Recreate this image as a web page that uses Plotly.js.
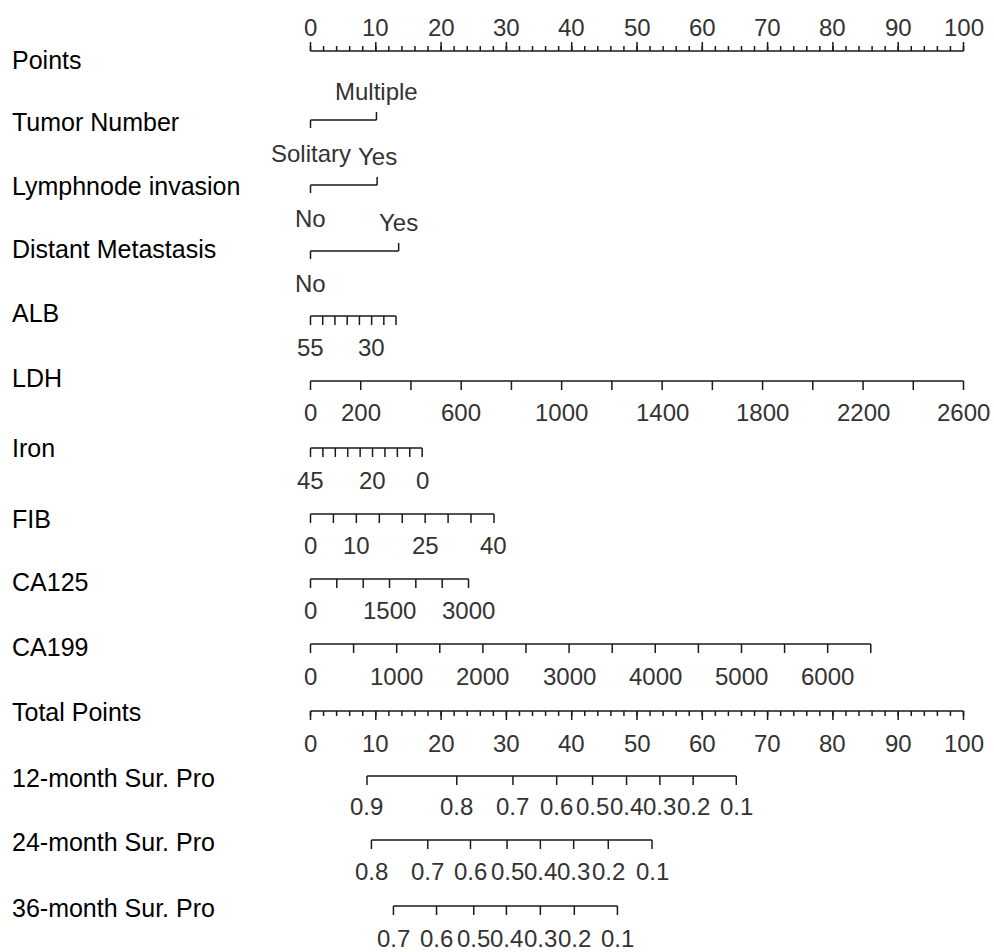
<!DOCTYPE html>
<html><head><meta charset="utf-8">
<script src="https://cdn.plot.ly/plotly-3.0.1.min.js"></script>
<style>html,body{margin:0;padding:0;background:#fff}</style></head>
<body><div id="chart" style="width:994px;height:952px"></div>
<script>
// ---------- DATA (x positions in "Points") ----------
const rowNames = ["Points","Tumor Number","Lymphnode invasion","Distant Metastasis","ALB","LDH","Iron","FIB","CA125","CA199","Total Points","12-month Sur. Pro","24-month Sur. Pro","36-month Sur. Pro"];

const pointsMinor = [0,2,4,6,8,10,12,14,16,18,20,22,24,26,28,30,32,34,36,38,40,42,44,46,48,50,52,54,56,58,60,62,64,66,68,70,72,74,76,78,80,82,84,86,88,90,92,94,96,98,100];
const pointsMajor = [0,10,20,30,40,50,60,70,80,90,100];

const tumorLevels = ["Solitary","Multiple"];
const tumorPts = [0, 10.1];
const lymphLevels = ["No","Yes"];
const lymphPts = [0, 10.2];
const distantLevels = ["No","Yes"];
const distantPts = [0, 13.5];

const albValues = [55,50,45,40,35,30,25,20];
const albPts = [0,1.87,3.74,5.62,7.49,9.36,11.23,13.1];
const albLabels = ["55","30"];

const ldhValues = [0,200,400,600,800,1000,1200,1400,1600,1800,2000,2200,2400,2600];
const ldhPts = [0,7.69,15.38,23.08,30.77,38.46,46.15,53.85,61.54,69.23,76.92,84.62,92.31,100];
const ldhLabels = ["0","200","600","1000","1400","1800","2200","2600"];

const ironValues = [45,40,35,30,25,20,15,10,5,0];
const ironPts = [0,1.9,3.8,5.7,7.6,9.5,11.4,13.3,15.2,17.1];
const ironLabels = ["45","20","0"];

const fibValues = [0,5,10,15,20,25,30,35,40];
const fibPts = [0,3.51,7.02,10.54,14.05,17.56,21.07,24.58,28.1];
const fibLabels = ["0","10","25","40"];

const ca125Values = [0,500,1000,1500,2000,2500,3000];
const ca125Pts = [0,4.03,8.07,12.1,16.13,20.17,24.2];
const ca125Labels = ["0","1500","3000"];

const ca199Values = [0,500,1000,1500,2000,2500,3000,3500,4000,4500,5000,5500,6000,6500];
const ca199Pts = [0,6.6,13.2,19.8,26.4,33.0,39.6,46.2,52.8,59.4,66.0,72.6,79.2,85.8];
const ca199Labels = ["0","1000","2000","3000","4000","5000","6000"];

const sur12Values = ["0.9","0.8","0.7","0.6","0.5","0.4","0.3","0.2","0.1"];
const sur12Pts = [8.65,22.4,31.0,37.7,43.2,48.4,53.5,58.6,65.2];
const sur24Values = ["0.8","0.7","0.6","0.5","0.4","0.3","0.2","0.1"];
const sur24Pts = [9.33,17.96,24.5,30.1,35.2,40.3,45.6,52.3];
const sur36Values = ["0.7","0.6","0.5","0.4","0.3","0.2","0.1"];
const sur36Pts = [12.7,19.3,25.0,30.0,35.2,40.4,47.0];

// ---------- LAYOUT (pixel rows) ----------
const rowLabelY = [60,122,186,249,313,378,448,519,582,647,712,778,842,908];
const LINE = "#1a1a1a", TXT = "#333333";
const FONT = "Liberation Sans, Arial, Helvetica, sans-serif";
const segX = [], segY = [];
const ann = [];
function seg(x1,y1,x2,y2){ segX.push(x1,x2,null); segY.push(y1,y2,null); }
function axisLine(pts, y){ seg(Math.min(...pts), y, Math.max(...pts), y); }
function ticks(pts, y, len){ pts.forEach(p => seg(p, y, p, y+len)); }
function label(text, x, y){
  ann.push({x:x, y:y, xref:"x", yref:"y", text:String(text), showarrow:false,
    xanchor:"center", yanchor:"middle", font:{family:FONT, size:24, color:TXT}});
}
function numericRow(values, pts, labels, lineY, labY, dir){
  axisLine(pts, lineY);
  ticks(pts, lineY, 9*dir);
  values.forEach((v,i) => { if (labels.indexOf(String(v)) >= 0) label(v, pts[i], labY); });
}

// Points (ticks up)
axisLine(pointsMinor, 51);
ticks(pointsMinor, 51, -5);
ticks(pointsMajor, 51, -9);
pointsMajor.forEach(v => label(v, v, 27));

// Categorical rows: first level below (tick down), second above (tick up)
function catRow(levels, pts, lineY, labBelow, labAbove){
  axisLine(pts, lineY);
  seg(pts[0], lineY, pts[0], lineY+8);
  seg(pts[1], lineY, pts[1], lineY-8);
  label(levels[0], pts[0], labBelow);
  label(levels[1], pts[1], labAbove);
}
catRow(tumorLevels, tumorPts, 120, 153, 91);
catRow(lymphLevels, lymphPts, 185, 218, 156);
catRow(distantLevels, distantPts, 251, 283, 222);

numericRow(albValues, albPts, albLabels, 316, 347, 1);
numericRow(ldhValues, ldhPts, ldhLabels, 381, 412, 1);
numericRow(ironValues, ironPts, ironLabels, 448, 480, 1);
numericRow(fibValues, fibPts, fibLabels, 514, 545, 1);
numericRow(ca125Values, ca125Pts, ca125Labels, 579, 610, 1);
numericRow(ca199Values, ca199Pts, ca199Labels, 644, 676, 1);

// Total Points (ticks down)
axisLine(pointsMinor, 711);
ticks(pointsMinor, 711, 5);
ticks(pointsMajor, 711, 9);
pointsMajor.forEach(v => label(v, v, 743));

numericRow(sur12Values, sur12Pts, sur12Values, 776, 806, 1);
numericRow(sur24Values, sur24Pts, sur24Values, 840, 871, 1);
numericRow(sur36Values, sur36Pts, sur36Values, 906, 938, 1);

rowNames.forEach((n,i) => ann.push({x:10/994, y:rowLabelY[i], xref:"paper", yref:"y", text:n,
  showarrow:false, xanchor:"left", yanchor:"middle", font:{family:FONT, size:25, color:"#000"}}));

const trace = {x:segX, y:segY, mode:"lines", type:"scatter", line:{color:LINE, width:1.5},
  hoverinfo:"skip", showlegend:false};

const pxPerPt = 6.53, zeroPx = 310.5;
const layout = {
  width:994, height:952, margin:{l:0,r:0,t:0,b:0},
  paper_bgcolor:"#fff", plot_bgcolor:"#fff",
  xaxis:{range:[-zeroPx/pxPerPt, (994-zeroPx)/pxPerPt], visible:false, fixedrange:true},
  yaxis:{range:[952,0], visible:false, fixedrange:true},
  annotations:ann, showlegend:false
};
Plotly.newPlot("chart", [trace], layout, {displayModeBar:false, staticPlot:true});
</script></body></html>
